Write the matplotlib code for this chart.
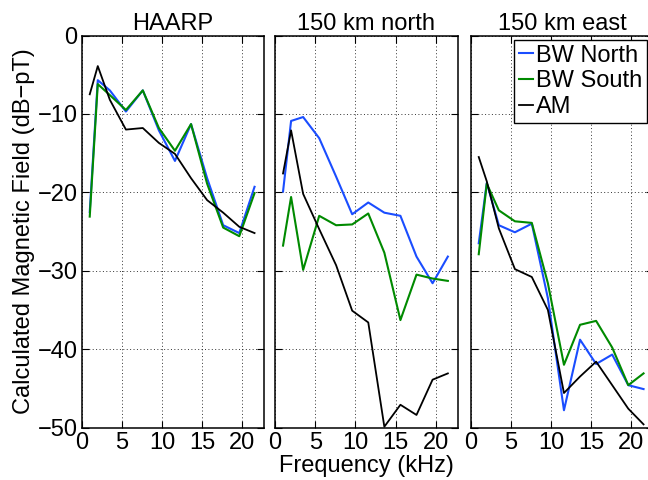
import matplotlib
matplotlib.use("Agg")
import matplotlib.pyplot as plt

freq = [1.0, 2.0, 3.5, 5.5, 7.6, 9.6, 11.6, 13.6, 15.6, 17.6, 19.6, 21.5]

titles = ["HAARP", "150 km north", "150 km east"]
series_labels = ["BW North", "BW South", "AM"]

haarp_bw_north = [-22.5, -5.7, -7.0, -9.7, -7.0, -12.1, -16.0, -11.3, -18.2, -24.2, -25.2, -19.3]
haarp_bw_south = [-23.1, -6.2, -7.6, -9.5, -7.0, -11.8, -14.7, -11.3, -18.9, -24.5, -25.6, -20.1]
haarp_am = [-7.5, -3.9, -8.2, -12.0, -11.8, -13.7, -15.1, -18.2, -21.0, -22.6, -24.4, -25.2]

north_bw_north = [-19.9, -10.9, -10.4, -13.1, -18.0, -22.8, -21.3, -22.6, -23.0, -28.2, -31.6, -28.2]
north_bw_south = [-26.8, -20.6, -29.9, -23.0, -24.2, -24.1, -22.7, -27.7, -36.3, -30.5, -31.0, -31.3]
north_am = [-17.6, -12.1, -20.2, -24.7, -29.3, -35.1, -36.6, -49.9, -47.1, -48.4, -43.9, -43.1]

east_bw_north = [-26.5, -18.8, -24.2, -25.1, -24.0, -33.5, -47.8, -38.8, -41.9, -40.7, -44.6, -45.1]
east_bw_south = [-27.9, -18.9, -22.3, -23.7, -23.9, -31.6, -42.0, -36.9, -36.4, -39.8, -44.6, -43.1]
east_am = [-15.5, -18.6, -24.6, -29.8, -30.8, -35.0, -45.6, -43.5, -41.6, -44.6, -47.6, -49.6]

xticks = [0, 5, 10, 15, 20]
yticks = [0, -10, -20, -30, -40, -50]

plt.rcParams['font.family'] = ['Liberation Sans', 'DejaVu Sans']
FS = 17

W, H = 648, 480
fig = plt.figure(figsize=(W / 100, H / 100), dpi=100)

top_px, bot_px = 35.5, 427.5
lefts = [81.7, 275.0, 470.7]
width_px = 182.5

colors = ['#1a4dff', '#008a00', 'black']
lws = [1.5, 1.5, 1.3]

data = [
    [haarp_bw_north, haarp_bw_south, haarp_am],
    [north_bw_north, north_bw_south, north_am],
    [east_bw_north, east_bw_south, east_am],
]

axes = []
for i, lx in enumerate(lefts):
    ax = fig.add_axes([lx / W, (H - bot_px) / H, width_px / W, (bot_px - top_px) / H])
    for s, vals in enumerate(data[i]):
        ax.plot(freq, vals, color=colors[s], lw=lws[s], label=series_labels[s])
    ax.set_xlim(0, 22.7)
    ax.set_ylim(-50, 0)
    ax.set_xticks(xticks)
    ax.set_yticks(yticks)
    ax.grid(True, linestyle=(0, (1, 2.5)), color='black', lw=0.7, alpha=0.8)
    ax.tick_params(direction='in', top=True, right=True, length=5, width=0.8,
                   labelsize=FS, pad=3)
    if i > 0:
        ax.set_yticklabels([])
    for sp in ax.spines.values():
        sp.set_linewidth(1.1)
    ax.set_title(titles[i], fontsize=FS, pad=4)
    axes.append(ax)

axes[0].set_ylabel("Calculated Magnetic Field (dB\u2212pT)", fontsize=FS, labelpad=2)
fig.text(366 / W, 1 - 466 / H, "Frequency (kHz)", fontsize=FS, ha='center', va='center')

leg = axes[2].legend(loc='upper right', bbox_to_anchor=(646.7 / W, (H - 40) / H),
                     bbox_transform=fig.transFigure, borderaxespad=0,
                     fontsize=FS, handlelength=0.6, handletextpad=0.1,
                     labelspacing=0.15, borderpad=0.2, fancybox=False,
                     framealpha=1, edgecolor='black')
leg.get_frame().set_linewidth(1.0)

fig.savefig("out.png", dpi=100)
